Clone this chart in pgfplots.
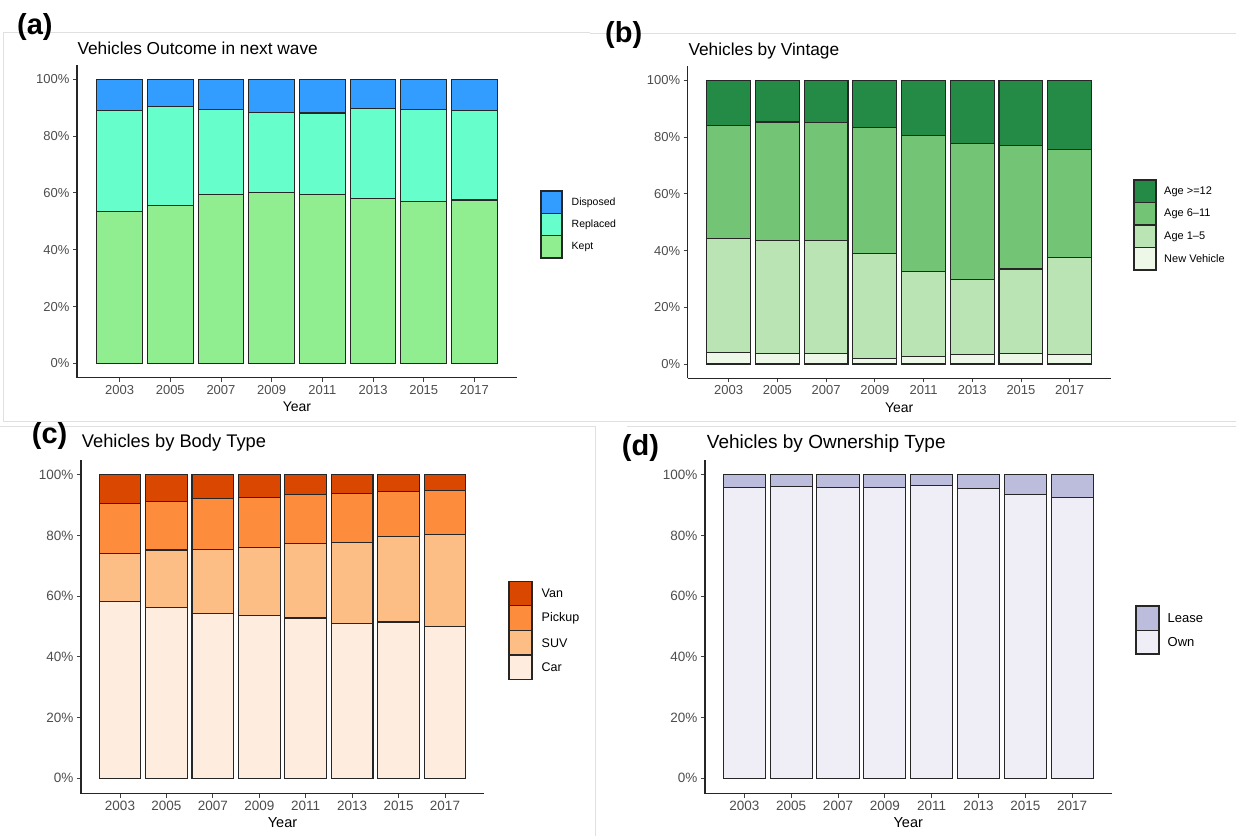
\documentclass[border=0pt]{standalone}
\usepackage{fontspec}
\setmainfont{Liberation Sans}
\usepackage{pgfplots}
\pgfplotsset{compat=1.18}
\definecolor{disp}{HTML}{339CFF}
\definecolor{repl}{HTML}{66FFCC}
\definecolor{kept}{HTML}{90EE90}
\definecolor{gA}{HTML}{238B45}
\definecolor{gB}{HTML}{74C476}
\definecolor{gC}{HTML}{BAE4B3}
\definecolor{gD}{HTML}{EDF8E9}
\definecolor{oA}{HTML}{D94701}
\definecolor{oB}{HTML}{FD8D3C}
\definecolor{oC}{HTML}{FDBE85}
\definecolor{oD}{HTML}{FEEDDE}
\definecolor{pA}{HTML}{BCBDDC}
\definecolor{pB}{HTML}{EFEDF5}
\definecolor{tickgray}{HTML}{4D4D4D}
\pgfplotsset{
  panel/.style={
    scale only axis, anchor=south west,
    axis x line*=bottom, axis y line*=left,
    axis line style={-, line width=1.2pt, black!85},
    ybar stacked, bar width=0.9,
    xmin=0.16, xmax=8.84, ymin=-5, ymax=105,
    xtick={1,...,8}, xticklabels={2003,2005,2007,2009,2011,2013,2015,2017},
    ytick={0,20,40,60,80,100}, yticklabels={0\%,20\%,40\%,60\%,80\%,100\%},
    tick align=outside, major tick length=4pt,
    tick style={black!75, line width=0.9pt},
    ticklabel style={font=\fontsize{13}{14}\selectfont, text=tickgray},
    xlabel={Year},
    x label style={at={(axis description cs:0.5,0)}, anchor=center, yshift=-29.5pt, font=\fontsize{14}{15}\selectfont},
    every axis plot/.append style={draw=black!85, line width=1.1pt},
  }
}
\begin{document}
\begin{tikzpicture}
\path[use as bounding box] (0pt,0pt) rectangle (1236pt,-836pt);
% faint panel borders
\begin{scope}[black!12, line width=0.8pt]
\draw (3pt,-421pt) -- (3pt,-32pt) -- (590pt,-32pt);
\draw (590pt,-33pt) -- (1236pt,-33pt);
\draw (3pt,-421.5pt) -- (1236pt,-421.5pt);
\draw (0pt,-426pt) -- (595pt,-426pt) -- (595pt,-836pt);
\draw (627pt,-426pt) -- (1236pt,-426pt);
\end{scope}

% ---------------- (a)
\begin{axis}[panel, at={(77pt,-377.7pt)}, width=440pt, height=312.7pt]
\addplot[fill=kept] coordinates {(1,53.5) (2,55.5) (3,59.3) (4,60.0) (5,59.3) (6,58.0) (7,57.0) (8,57.5)};
\addplot[fill=repl] coordinates {(1,35.4) (2,35.0) (3,30.2) (4,28.3) (5,28.8) (6,31.7) (7,32.3) (8,31.4)};
\addplot[fill=disp] coordinates {(1,11.1) (2,9.5) (3,10.5) (4,11.7) (5,11.9) (6,10.3) (7,10.7) (8,11.1)};
\end{axis}

% ---------------- (b)
\begin{axis}[panel, at={(687.7pt,-378.2pt)}, width=422.9pt, height=312.1pt]
\addplot[fill=gD] coordinates {(1,4.2) (2,3.6) (3,3.6) (4,2.1) (5,2.8) (6,3.3) (7,3.6) (8,3.4)};
\addplot[fill=gC] coordinates {(1,39.9) (2,39.8) (3,39.8) (4,37.0) (5,29.9) (6,26.5) (7,29.9) (8,34.1)};
\addplot[fill=gB] coordinates {(1,39.9) (2,41.9) (3,41.6) (4,44.4) (5,47.8) (6,48.0) (7,43.4) (8,38.1)};
\addplot[fill=gA] coordinates {(1,16.0) (2,14.7) (3,15.0) (4,16.5) (5,19.5) (6,22.2) (7,23.1) (8,24.4)};
\end{axis}

% ---------------- (c)
\begin{axis}[panel, at={(81pt,-793.5pt)}, width=403pt, height=334pt,
  ticklabel style={font=\fontsize{13.5}{14}\selectfont}, x label style={font=\fontsize{14.5}{15}\selectfont}]
\addplot[fill=oD] coordinates {(1,58.2) (2,56.2) (3,54.3) (4,53.7) (5,52.8) (6,51.0) (7,51.5) (8,49.9)};
\addplot[fill=oC] coordinates {(1,15.7) (2,19.0) (3,21.2) (4,22.4) (5,24.6) (6,26.7) (7,28.2) (8,30.5)};
\addplot[fill=oB] coordinates {(1,16.7) (2,16.0) (3,16.6) (4,16.5) (5,16.0) (6,16.0) (7,14.9) (8,14.4)};
\addplot[fill=oA] coordinates {(1,9.4) (2,8.8) (3,7.9) (4,7.4) (5,6.6) (6,6.3) (7,5.4) (8,5.2)};
\end{axis}

% ---------------- (d)
\begin{axis}[panel, at={(705pt,-793.5pt)}, width=406.5pt, height=334pt,
  ticklabel style={font=\fontsize{13.5}{14}\selectfont}, x label style={font=\fontsize{14.5}{15}\selectfont}]
\addplot[fill=pB] coordinates {(1,95.7) (2,96.0) (3,95.7) (4,95.9) (5,96.5) (6,95.6) (7,93.6) (8,92.5)};
\addplot[fill=pA] coordinates {(1,4.3) (2,4.0) (3,4.3) (4,4.1) (5,3.5) (6,4.4) (7,6.4) (8,7.5)};
\end{axis}

% titles and panel labels
\node[anchor=base west, inner sep=0pt, font=\fontsize{29}{30}\selectfont\bfseries] at (17pt,-34pt) {(a)};
\node[anchor=base west, inner sep=0pt, font=\fontsize{29}{30}\selectfont\bfseries] at (605pt,-42.2pt) {(b)};
\node[anchor=base west, inner sep=0pt, font=\fontsize{29}{30}\selectfont\bfseries] at (31.7pt,-443.9pt) {(c)};
\node[anchor=base west, inner sep=0pt, font=\fontsize{29}{30}\selectfont\bfseries] at (621.7pt,-455.6pt) {(d)};
\node[anchor=base west, inner sep=0pt, font=\fontsize{17.3}{18}\selectfont] at (77.3pt,-54.3pt) {Vehicles Outcome in next wave};
\node[anchor=base west, inner sep=0pt, font=\fontsize{17.3}{18}\selectfont] at (688.3pt,-55pt) {Vehicles by Vintage};
\node[anchor=base west, inner sep=0pt, font=\fontsize{18.3}{19}\selectfont] at (81.7pt,-447.3pt) {Vehicles by Body Type};
\node[anchor=base west, inner sep=0pt, font=\fontsize{19}{20}\selectfont] at (706.7pt,-448.3pt) {Vehicles by Ownership Type};

% legends
\begin{scope}[draw=black!85, line width=1.1pt]
\filldraw[fill=disp] (541pt,-191pt) rectangle (562pt,-213.3pt);
\filldraw[fill=repl] (541pt,-213.3pt) rectangle (562pt,-235.7pt);
\filldraw[fill=kept] (541pt,-235.7pt) rectangle (562pt,-258pt);
\filldraw[fill=gA] (1134pt,-180pt) rectangle (1156pt,-202.7pt);
\filldraw[fill=gB] (1134pt,-202.7pt) rectangle (1156pt,-225pt);
\filldraw[fill=gC] (1134pt,-225pt) rectangle (1156pt,-247.7pt);
\filldraw[fill=gD] (1134pt,-247.7pt) rectangle (1156pt,-270pt);
\filldraw[fill=oA] (509pt,-581.7pt) rectangle (532pt,-605.7pt);
\filldraw[fill=oB] (509pt,-605.7pt) rectangle (532pt,-630.7pt);
\filldraw[fill=oC] (509pt,-630.7pt) rectangle (532pt,-655pt);
\filldraw[fill=oD] (509pt,-655pt) rectangle (532pt,-679.3pt);
\filldraw[fill=pA] (1136pt,-606pt) rectangle (1159pt,-630.7pt);
\filldraw[fill=pB] (1136pt,-630.7pt) rectangle (1159pt,-654pt);
\end{scope}
\begin{scope}[every node/.style={anchor=west, inner sep=0pt}]
\node[font=\fontsize{10.5}{11}\selectfont] at (571.5pt,-202.5pt) {Disposed};
\node[font=\fontsize{10.5}{11}\selectfont] at (571.5pt,-224.8pt) {Replaced};
\node[font=\fontsize{10.5}{11}\selectfont] at (571.5pt,-247pt) {Kept};
\node[font=\fontsize{11}{12}\selectfont] at (1164pt,-191.5pt) {Age >=12};
\node[font=\fontsize{11}{12}\selectfont] at (1164pt,-214pt) {Age 6–11};
\node[font=\fontsize{11}{12}\selectfont] at (1164pt,-236.5pt) {Age 1–5};
\node[font=\fontsize{11}{12}\selectfont] at (1164pt,-259pt) {New Vehicle};
\node[font=\fontsize{12.5}{13}\selectfont] at (541.5pt,-593.7pt) {Van};
\node[font=\fontsize{12.5}{13}\selectfont] at (541.5pt,-618.2pt) {Pickup};
\node[font=\fontsize{12.5}{13}\selectfont] at (541.5pt,-642.8pt) {SUV};
\node[font=\fontsize{12.5}{13}\selectfont] at (541.5pt,-667pt) {Car};
\node[font=\fontsize{13}{14}\selectfont] at (1167.5pt,-618.3pt) {Lease};
\node[font=\fontsize{13}{14}\selectfont] at (1167.5pt,-642.3pt) {Own};
\end{scope}
\end{tikzpicture}
\end{document}
